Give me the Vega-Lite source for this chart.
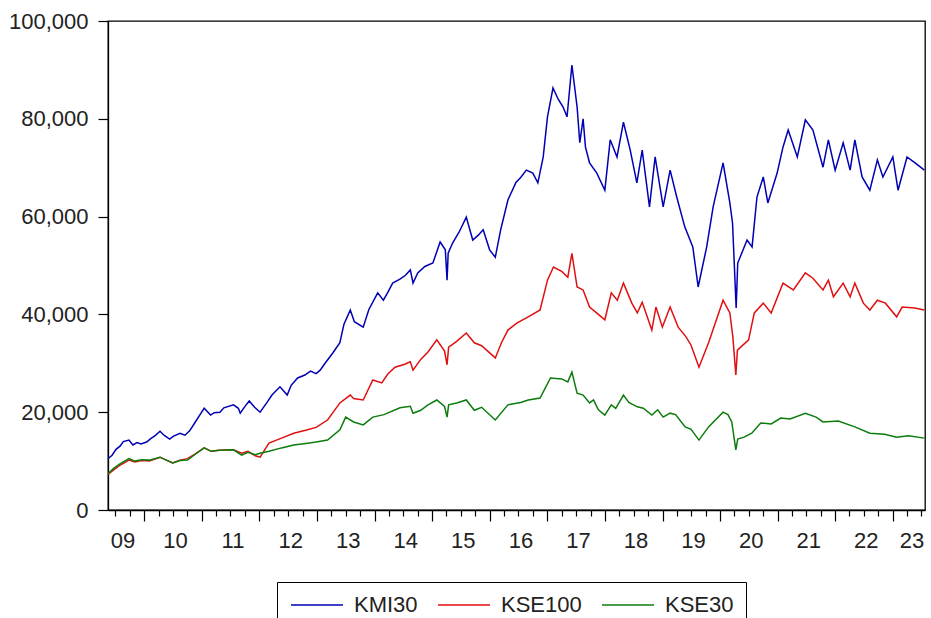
{
  "$schema": "https://vega.github.io/schema/vega-lite/v6.json",
  "width": 817,
  "height": 489,
  "autosize": {"type": "none"},
  "padding": {"left": 108, "top": 21, "right": 6, "bottom": 108},
  "background": "white",
  "config": {
    "view": {"stroke": "#000", "strokeWidth": 1.3},
    "font": "Liberation Sans"
  },
  "data": {"values": [
    {"d":"2009-05-15","s":"KMI30","v":10500},{"d":"2009-06-10","s":"KMI30","v":11200},{"d":"2009-07-05","s":"KMI30","v":12400},{"d":"2009-08-01","s":"KMI30","v":13100},{"d":"2009-08-20","s":"KMI30","v":14000},{"d":"2009-09-25","s":"KMI30","v":14300},{"d":"2009-10-20","s":"KMI30","v":13300},{"d":"2009-11-15","s":"KMI30","v":13800},{"d":"2009-12-10","s":"KMI30","v":13500},
    {"d":"2010-01-15","s":"KMI30","v":13900},{"d":"2010-02-10","s":"KMI30","v":14600},{"d":"2010-03-10","s":"KMI30","v":15200},{"d":"2010-04-10","s":"KMI30","v":16100},{"d":"2010-05-05","s":"KMI30","v":15300},{"d":"2010-06-10","s":"KMI30","v":14500},{"d":"2010-07-05","s":"KMI30","v":15100},{"d":"2010-08-15","s":"KMI30","v":15700},{"d":"2010-09-15","s":"KMI30","v":15300},{"d":"2010-10-15","s":"KMI30","v":16200},{"d":"2010-11-20","s":"KMI30","v":18000},{"d":"2010-12-20","s":"KMI30","v":19500},
    {"d":"2011-01-15","s":"KMI30","v":20800},{"d":"2011-02-25","s":"KMI30","v":19400},{"d":"2011-03-20","s":"KMI30","v":19900},{"d":"2011-04-25","s":"KMI30","v":20000},{"d":"2011-05-20","s":"KMI30","v":20900},{"d":"2011-07-20","s":"KMI30","v":21500},{"d":"2011-08-20","s":"KMI30","v":20800},{"d":"2011-09-01","s":"KMI30","v":19800},{"d":"2011-10-01","s":"KMI30","v":21200},{"d":"2011-10-28","s":"KMI30","v":22300},{"d":"2011-12-01","s":"KMI30","v":21000},
    {"d":"2012-01-05","s":"KMI30","v":20000},{"d":"2012-02-20","s":"KMI30","v":22100},{"d":"2012-03-20","s":"KMI30","v":23500},{"d":"2012-05-10","s":"KMI30","v":25200},{"d":"2012-06-25","s":"KMI30","v":23500},{"d":"2012-07-20","s":"KMI30","v":25500},{"d":"2012-08-30","s":"KMI30","v":27000},{"d":"2012-10-15","s":"KMI30","v":27600},{"d":"2012-11-20","s":"KMI30","v":28400},{"d":"2012-12-25","s":"KMI30","v":27900},
    {"d":"2013-01-20","s":"KMI30","v":28600},{"d":"2013-02-20","s":"KMI30","v":30000},{"d":"2013-04-10","s":"KMI30","v":32100},{"d":"2013-05-25","s":"KMI30","v":34200},{"d":"2013-06-20","s":"KMI30","v":38000},{"d":"2013-07-30","s":"KMI30","v":40900},{"d":"2013-08-25","s":"KMI30","v":38500},{"d":"2013-10-20","s":"KMI30","v":37400},{"d":"2013-11-25","s":"KMI30","v":41000},
    {"d":"2014-01-20","s":"KMI30","v":44400},{"d":"2014-02-25","s":"KMI30","v":42900},{"d":"2014-03-25","s":"KMI30","v":44500},{"d":"2014-04-25","s":"KMI30","v":46400},{"d":"2014-06-10","s":"KMI30","v":47200},{"d":"2014-07-15","s":"KMI30","v":48000},{"d":"2014-08-15","s":"KMI30","v":49100},{"d":"2014-09-01","s":"KMI30","v":46400},{"d":"2014-10-01","s":"KMI30","v":48500},{"d":"2014-11-15","s":"KMI30","v":49800},
    {"d":"2015-01-05","s":"KMI30","v":50500},{"d":"2015-02-20","s":"KMI30","v":54800},{"d":"2015-03-25","s":"KMI30","v":53200},{"d":"2015-04-05","s":"KMI30","v":47000},{"d":"2015-04-12","s":"KMI30","v":52500},{"d":"2015-05-10","s":"KMI30","v":54600},{"d":"2015-06-20","s":"KMI30","v":56800},{"d":"2015-08-05","s":"KMI30","v":59900},{"d":"2015-09-15","s":"KMI30","v":55200},{"d":"2015-10-20","s":"KMI30","v":56200},{"d":"2015-11-20","s":"KMI30","v":57300},{"d":"2015-12-31","s":"KMI30","v":53200},
    {"d":"2016-02-05","s":"KMI30","v":51700},{"d":"2016-03-10","s":"KMI30","v":57300},{"d":"2016-04-25","s":"KMI30","v":63400},{"d":"2016-06-15","s":"KMI30","v":67000},{"d":"2016-07-15","s":"KMI30","v":68000},{"d":"2016-08-20","s":"KMI30","v":69500},{"d":"2016-09-30","s":"KMI30","v":68900},{"d":"2016-11-01","s":"KMI30","v":66900},{"d":"2016-12-05","s":"KMI30","v":72200},
    {"d":"2017-01-01","s":"KMI30","v":80400},{"d":"2017-02-05","s":"KMI30","v":86300},{"d":"2017-03-10","s":"KMI30","v":84000},{"d":"2017-04-10","s":"KMI30","v":82400},{"d":"2017-05-05","s":"KMI30","v":80400},{"d":"2017-06-05","s":"KMI30","v":91000},{"d":"2017-07-08","s":"KMI30","v":82400},{"d":"2017-07-25","s":"KMI30","v":75100},{"d":"2017-08-15","s":"KMI30","v":80000},{"d":"2017-08-30","s":"KMI30","v":74200},{"d":"2017-09-25","s":"KMI30","v":71000},{"d":"2017-11-10","s":"KMI30","v":68900},{"d":"2017-12-31","s":"KMI30","v":65400},
    {"d":"2018-02-03","s":"KMI30","v":75700},{"d":"2018-03-18","s":"KMI30","v":72200},{"d":"2018-04-28","s":"KMI30","v":79300},{"d":"2018-06-10","s":"KMI30","v":73600},{"d":"2018-07-22","s":"KMI30","v":66900},{"d":"2018-08-25","s":"KMI30","v":73600},{"d":"2018-10-10","s":"KMI30","v":62000},{"d":"2018-11-15","s":"KMI30","v":72200},
    {"d":"2019-01-05","s":"KMI30","v":62000},{"d":"2019-02-18","s":"KMI30","v":69500},{"d":"2019-04-01","s":"KMI30","v":64000},{"d":"2019-05-22","s":"KMI30","v":57900},{"d":"2019-07-12","s":"KMI30","v":53800},{"d":"2019-08-15","s":"KMI30","v":45600},{"d":"2019-10-08","s":"KMI30","v":53800},{"d":"2019-11-18","s":"KMI30","v":62000},
    {"d":"2020-01-20","s":"KMI30","v":71000},{"d":"2020-03-03","s":"KMI30","v":62800},{"d":"2020-03-20","s":"KMI30","v":58700},{"d":"2020-04-12","s":"KMI30","v":41300},{"d":"2020-04-22","s":"KMI30","v":50500},{"d":"2020-06-20","s":"KMI30","v":55200},{"d":"2020-07-22","s":"KMI30","v":53800},{"d":"2020-08-22","s":"KMI30","v":64000},{"d":"2020-10-01","s":"KMI30","v":68100},{"d":"2020-10-30","s":"KMI30","v":62800},{"d":"2020-12-28","s":"KMI30","v":68900},
    {"d":"2021-02-03","s":"KMI30","v":74200},{"d":"2021-03-08","s":"KMI30","v":77700},{"d":"2021-05-05","s":"KMI30","v":72200},{"d":"2021-06-25","s":"KMI30","v":79800},{"d":"2021-08-12","s":"KMI30","v":77700},{"d":"2021-10-15","s":"KMI30","v":70100},{"d":"2021-11-18","s":"KMI30","v":75700},{"d":"2021-12-31","s":"KMI30","v":69500},
    {"d":"2022-02-20","s":"KMI30","v":75100},{"d":"2022-04-05","s":"KMI30","v":69500},{"d":"2022-05-05","s":"KMI30","v":75700},{"d":"2022-06-20","s":"KMI30","v":68100},{"d":"2022-08-08","s":"KMI30","v":65400},{"d":"2022-09-25","s":"KMI30","v":71600},{"d":"2022-10-30","s":"KMI30","v":68100},
    {"d":"2023-01-01","s":"KMI30","v":72200},{"d":"2023-02-03","s":"KMI30","v":65400},{"d":"2023-04-01","s":"KMI30","v":72200},{"d":"2023-05-22","s":"KMI30","v":71000},{"d":"2023-07-20","s":"KMI30","v":69500},

    {"d":"2009-05-15","s":"KSE100","v":7300},{"d":"2009-06-20","s":"KSE100","v":8200},{"d":"2009-08-01","s":"KSE100","v":9200},{"d":"2009-09-25","s":"KSE100","v":10200},{"d":"2009-11-01","s":"KSE100","v":9800},{"d":"2009-12-15","s":"KSE100","v":10100},
    {"d":"2010-02-01","s":"KSE100","v":10000},{"d":"2010-04-10","s":"KSE100","v":10800},{"d":"2010-05-20","s":"KSE100","v":10200},{"d":"2010-06-30","s":"KSE100","v":9600},{"d":"2010-08-15","s":"KSE100","v":10200},{"d":"2010-10-01","s":"KSE100","v":10500},{"d":"2010-11-20","s":"KSE100","v":11500},
    {"d":"2011-01-15","s":"KSE100","v":12700},{"d":"2011-03-01","s":"KSE100","v":12000},{"d":"2011-04-20","s":"KSE100","v":12200},{"d":"2011-07-20","s":"KSE100","v":12300},{"d":"2011-09-10","s":"KSE100","v":11600},{"d":"2011-10-20","s":"KSE100","v":12000},{"d":"2011-12-05","s":"KSE100","v":11100},
    {"d":"2012-01-05","s":"KSE100","v":10800},{"d":"2012-03-01","s":"KSE100","v":13700},{"d":"2012-05-20","s":"KSE100","v":14700},{"d":"2012-08-05","s":"KSE100","v":15700},{"d":"2012-10-20","s":"KSE100","v":16300},{"d":"2012-12-25","s":"KSE100","v":16900},
    {"d":"2013-03-08","s":"KSE100","v":18400},{"d":"2013-05-25","s":"KSE100","v":21900},{"d":"2013-07-30","s":"KSE100","v":23500},{"d":"2013-08-20","s":"KSE100","v":22800},{"d":"2013-10-20","s":"KSE100","v":22500},{"d":"2013-12-20","s":"KSE100","v":26600},
    {"d":"2014-02-15","s":"KSE100","v":26000},{"d":"2014-03-25","s":"KSE100","v":27800},{"d":"2014-05-10","s":"KSE100","v":29200},{"d":"2014-07-10","s":"KSE100","v":29800},{"d":"2014-08-15","s":"KSE100","v":30300},{"d":"2014-09-01","s":"KSE100","v":28600},{"d":"2014-10-20","s":"KSE100","v":30800},{"d":"2014-12-05","s":"KSE100","v":32300},
    {"d":"2015-01-30","s":"KSE100","v":34800},{"d":"2015-03-20","s":"KSE100","v":32500},{"d":"2015-04-05","s":"KSE100","v":29700},{"d":"2015-04-15","s":"KSE100","v":33300},{"d":"2015-06-05","s":"KSE100","v":34500},{"d":"2015-08-05","s":"KSE100","v":36200},{"d":"2015-09-25","s":"KSE100","v":34200},{"d":"2015-11-10","s":"KSE100","v":33600},
    {"d":"2016-02-05","s":"KSE100","v":31100},{"d":"2016-03-15","s":"KSE100","v":34200},{"d":"2016-04-25","s":"KSE100","v":36800},{"d":"2016-06-20","s":"KSE100","v":38200},{"d":"2016-09-01","s":"KSE100","v":39500},{"d":"2016-11-15","s":"KSE100","v":40900},
    {"d":"2017-01-01","s":"KSE100","v":47000},{"d":"2017-02-08","s":"KSE100","v":49700},{"d":"2017-04-01","s":"KSE100","v":48800},{"d":"2017-05-10","s":"KSE100","v":47600},{"d":"2017-06-05","s":"KSE100","v":52500},{"d":"2017-07-08","s":"KSE100","v":45600},{"d":"2017-08-15","s":"KSE100","v":45000},{"d":"2017-09-25","s":"KSE100","v":41500},{"d":"2017-11-20","s":"KSE100","v":40000},{"d":"2017-12-31","s":"KSE100","v":38900},
    {"d":"2018-02-10","s":"KSE100","v":44400},{"d":"2018-03-20","s":"KSE100","v":42900},{"d":"2018-04-28","s":"KSE100","v":46400},{"d":"2018-06-20","s":"KSE100","v":42300},{"d":"2018-07-25","s":"KSE100","v":40300},{"d":"2018-08-25","s":"KSE100","v":42500},{"d":"2018-10-25","s":"KSE100","v":36800},{"d":"2018-11-20","s":"KSE100","v":41500},{"d":"2018-12-31","s":"KSE100","v":37400},
    {"d":"2019-02-18","s":"KSE100","v":41500},{"d":"2019-04-10","s":"KSE100","v":37400},{"d":"2019-05-30","s":"KSE100","v":35400},{"d":"2019-07-01","s":"KSE100","v":33700},{"d":"2019-08-20","s":"KSE100","v":29200},{"d":"2019-10-20","s":"KSE100","v":34200},
    {"d":"2020-01-20","s":"KSE100","v":42900},{"d":"2020-03-03","s":"KSE100","v":40300},{"d":"2020-03-22","s":"KSE100","v":35400},{"d":"2020-04-10","s":"KSE100","v":27600},{"d":"2020-04-20","s":"KSE100","v":32700},{"d":"2020-06-30","s":"KSE100","v":34800},{"d":"2020-08-05","s":"KSE100","v":40300},{"d":"2020-10-01","s":"KSE100","v":42300},{"d":"2020-11-20","s":"KSE100","v":40300},
    {"d":"2021-02-03","s":"KSE100","v":46400},{"d":"2021-04-10","s":"KSE100","v":45000},{"d":"2021-06-25","s":"KSE100","v":48500},{"d":"2021-08-12","s":"KSE100","v":47400},{"d":"2021-10-15","s":"KSE100","v":45000},{"d":"2021-11-18","s":"KSE100","v":47000},{"d":"2021-12-20","s":"KSE100","v":43600},
    {"d":"2022-02-20","s":"KSE100","v":46400},{"d":"2022-04-05","s":"KSE100","v":43600},{"d":"2022-05-05","s":"KSE100","v":46400},{"d":"2022-06-28","s":"KSE100","v":42300},{"d":"2022-08-08","s":"KSE100","v":40900},{"d":"2022-09-25","s":"KSE100","v":42900},{"d":"2022-11-15","s":"KSE100","v":42300},
    {"d":"2023-01-25","s":"KSE100","v":39500},{"d":"2023-03-01","s":"KSE100","v":41500},{"d":"2023-05-20","s":"KSE100","v":41300},{"d":"2023-07-20","s":"KSE100","v":40900},

    {"d":"2009-05-15","s":"KSE30","v":7400},{"d":"2009-06-20","s":"KSE30","v":8500},{"d":"2009-08-01","s":"KSE30","v":9500},{"d":"2009-09-25","s":"KSE30","v":10500},{"d":"2009-11-01","s":"KSE30","v":10000},{"d":"2009-12-15","s":"KSE30","v":10300},
    {"d":"2010-02-01","s":"KSE30","v":10200},{"d":"2010-04-10","s":"KSE30","v":10800},{"d":"2010-05-20","s":"KSE30","v":10200},{"d":"2010-06-30","s":"KSE30","v":9600},{"d":"2010-08-15","s":"KSE30","v":10100},{"d":"2010-10-01","s":"KSE30","v":10200},{"d":"2010-11-20","s":"KSE30","v":11400},
    {"d":"2011-01-15","s":"KSE30","v":12700},{"d":"2011-03-01","s":"KSE30","v":12000},{"d":"2011-04-20","s":"KSE30","v":12200},{"d":"2011-07-20","s":"KSE30","v":12300},{"d":"2011-09-10","s":"KSE30","v":11200},{"d":"2011-10-20","s":"KSE30","v":11800},{"d":"2011-12-05","s":"KSE30","v":11300},
    {"d":"2012-01-05","s":"KSE30","v":11600},{"d":"2012-03-01","s":"KSE30","v":12000},{"d":"2012-05-20","s":"KSE30","v":12700},{"d":"2012-08-05","s":"KSE30","v":13300},{"d":"2012-10-20","s":"KSE30","v":13600},{"d":"2012-12-25","s":"KSE30","v":13900},
    {"d":"2013-03-08","s":"KSE30","v":14300},{"d":"2013-05-25","s":"KSE30","v":16400},{"d":"2013-07-01","s":"KSE30","v":19000},{"d":"2013-08-20","s":"KSE30","v":18000},{"d":"2013-10-20","s":"KSE30","v":17400},{"d":"2013-12-20","s":"KSE30","v":19000},
    {"d":"2014-03-01","s":"KSE30","v":19500},{"d":"2014-06-10","s":"KSE30","v":20900},{"d":"2014-08-15","s":"KSE30","v":21200},{"d":"2014-09-01","s":"KSE30","v":19800},{"d":"2014-10-20","s":"KSE30","v":20400},{"d":"2014-12-05","s":"KSE30","v":21500},
    {"d":"2015-01-30","s":"KSE30","v":22500},{"d":"2015-03-20","s":"KSE30","v":21200},{"d":"2015-04-05","s":"KSE30","v":19000},{"d":"2015-04-15","s":"KSE30","v":21500},{"d":"2015-06-05","s":"KSE30","v":21900},{"d":"2015-08-05","s":"KSE30","v":22500},{"d":"2015-09-25","s":"KSE30","v":20400},{"d":"2015-11-10","s":"KSE30","v":21000},
    {"d":"2016-02-05","s":"KSE30","v":18400},{"d":"2016-04-25","s":"KSE30","v":21500},{"d":"2016-07-15","s":"KSE30","v":22000},{"d":"2016-09-01","s":"KSE30","v":22500},{"d":"2016-11-15","s":"KSE30","v":22900},
    {"d":"2017-01-20","s":"KSE30","v":27000},{"d":"2017-04-01","s":"KSE30","v":26800},{"d":"2017-05-10","s":"KSE30","v":26200},{"d":"2017-06-05","s":"KSE30","v":28200},{"d":"2017-07-08","s":"KSE30","v":23900},{"d":"2017-08-15","s":"KSE30","v":23500},{"d":"2017-09-25","s":"KSE30","v":21900},{"d":"2017-10-20","s":"KSE30","v":22500},{"d":"2017-11-20","s":"KSE30","v":20500},{"d":"2017-12-31","s":"KSE30","v":19400},
    {"d":"2018-02-10","s":"KSE30","v":21500},{"d":"2018-03-10","s":"KSE30","v":20800},{"d":"2018-04-28","s":"KSE30","v":23500},{"d":"2018-06-01","s":"KSE30","v":22000},{"d":"2018-07-25","s":"KSE30","v":21100},{"d":"2018-09-01","s":"KSE30","v":20800},{"d":"2018-10-25","s":"KSE30","v":19400},{"d":"2018-12-01","s":"KSE30","v":20500},
    {"d":"2019-01-05","s":"KSE30","v":19000},{"d":"2019-02-18","s":"KSE30","v":19800},{"d":"2019-03-25","s":"KSE30","v":19500},{"d":"2019-04-25","s":"KSE30","v":18200},{"d":"2019-05-25","s":"KSE30","v":17000},{"d":"2019-07-01","s":"KSE30","v":16500},{"d":"2019-08-20","s":"KSE30","v":14300},{"d":"2019-10-20","s":"KSE30","v":17000},
    {"d":"2020-01-20","s":"KSE30","v":20000},{"d":"2020-02-20","s":"KSE30","v":19500},{"d":"2020-03-15","s":"KSE30","v":18000},{"d":"2020-04-10","s":"KSE30","v":12300},{"d":"2020-04-22","s":"KSE30","v":14500},{"d":"2020-06-01","s":"KSE30","v":14900},{"d":"2020-07-20","s":"KSE30","v":15700},{"d":"2020-09-15","s":"KSE30","v":17800},{"d":"2020-11-20","s":"KSE30","v":17600},
    {"d":"2021-01-20","s":"KSE30","v":18800},{"d":"2021-03-20","s":"KSE30","v":18600},{"d":"2021-06-25","s":"KSE30","v":19800},{"d":"2021-09-01","s":"KSE30","v":19000},{"d":"2021-10-15","s":"KSE30","v":18000},
    {"d":"2022-01-20","s":"KSE30","v":18200},{"d":"2022-05-05","s":"KSE30","v":17000},{"d":"2022-08-08","s":"KSE30","v":15700},{"d":"2022-11-10","s":"KSE30","v":15500},
    {"d":"2023-01-25","s":"KSE30","v":14900},{"d":"2023-04-10","s":"KSE30","v":15200},{"d":"2023-07-20","s":"KSE30","v":14700}
  ]},
  "mark": {"type": "line", "strokeWidth": 1.5, "clip": true},
  "encoding": {
    "x": {
      "field": "d", "type": "temporal",
      "scale": {"domain": ["2009-05-15", "2023-07-24"]},
      "axis": {
        "title": null, "grid": false,
        "domainColor": "#000", "domainWidth": 1.3,
        "tickColor": "#000", "tickWidth": 1.2,
        "tickCount": {"interval": "month", "step": 3},
        "tickSize": {"condition": {"test": "month(datum.value) == 0", "value": 11}, "value": 6},
        "labelExpr": "month(datum.value) == 6 ? timeFormat(datum.value, '%y') : ''",
        "labelOffset": {"condition": [{"test": "year(datum.value) == 2009", "value": 7}, {"test": "year(datum.value) == 2023", "value": -10}], "value": 2},
        "labelFontSize": 22, "labelColor": "#222",
        "labelPadding": 14, "labelOverlap": false, "labelFlush": false, "labelBound": false
      }
    },
    "y": {
      "field": "v", "type": "quantitative",
      "scale": {"domain": [0, 100000], "nice": false},
      "axis": {
        "title": null, "grid": false,
        "values": [0, 20000, 40000, 60000, 80000, 100000],
        "format": ",d",
        "domainColor": "#000", "domainWidth": 1.3,
        "tickColor": "#000", "tickWidth": 1.2, "tickSize": 10,
        "labelFontSize": 22, "labelColor": "#222", "labelPadding": 10
      }
    },
    "color": {
      "field": "s", "type": "nominal",
      "scale": {"domain": ["KMI30", "KSE100", "KSE30"], "range": ["#0000b4", "#e01010", "#0c7c0c"]},
      "legend": {
        "orient": "none", "legendX": 169, "legendY": 561,
        "direction": "horizontal", "title": null,
        "symbolType": "M-2.6,0H2.6", "symbolSize": 400, "symbolStrokeWidth": 1.3,
        "symbolOffset": 17,
        "labelFontSize": 22, "labelColor": "#222", "labelOffset": 26,
        "columnPadding": 17, "padding": 12,
        "strokeColor": "#000", "fillColor": "white"
      }
    }
  }
}
